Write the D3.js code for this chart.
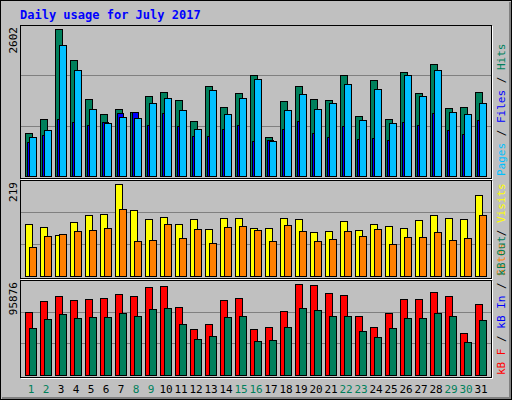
<!DOCTYPE html>
<html lang="en">
<head>
    <meta charset="UTF-8">
    <title>Daily usage for July 2017</title>
    <script src="https://d3js.org/d3.v7.min.js"></script>
    <style>
        body { margin: 0; background: #fff; }
        svg text { font-family: "DejaVu Sans Mono", monospace; }
    </style>
</head>
<body>
<script>
    const days = d3.range(1, 32);
    const weekends = [1, 2, 8, 9, 15, 16, 22, 23, 29, 30];

    const hits = [761, 1009, 2602, 2053, 1363, 1097, 1186, 1133, 1416, 1493, 1345, 973, 1593, 1221, 1469, 1788,
        690, 1328, 1593, 1363, 1345, 1788, 1062, 1699, 1009, 1841, 1469, 1982, 1204, 1221, 1493];
    const files = [690, 814, 2319, 1876, 1186, 938, 1044, 1027, 1292, 1381, 1168, 832, 1522, 1097, 1381, 1717,
        620, 1168, 1451, 1186, 1292, 1628, 991, 1540, 938, 1788, 1416, 1876, 1133, 1097, 1292];
    const pages = [602, 726, 1009, 956, 903, 956, 1115, 1133, 903, 1115, 885, 708, 708, 832, 903, 620,
        637, 832, 974, 761, 690, 885, 655, 673, 637, 956, 903, 1115, 814, 743, 991];
    const visits = [124, 117, 98, 129, 145, 148, 219, 157, 136, 141, 124, 136, 112, 138, 138, 114,
        114, 138, 136, 105, 107, 131, 110, 124, 119, 114, 133, 145, 138, 136, 193];
    const sites = [70, 95, 100, 107, 110, 114, 160, 83, 86, 124, 91, 112, 79, 117, 119, 110,
        83, 121, 107, 83, 88, 107, 95, 112, 76, 93, 93, 105, 86, 91, 145];
    const kbF = [66377, 77966, 83234, 79020, 80074, 81128, 85342, 83234, 92716, 93770, 71644, 48466, 53734, 79020, 81128, 48466,
        50573, 67431, 95876, 94822, 86396, 84289, 62163, 50573, 65323, 80074, 80074, 87450, 83234, 44252, 74805];
    const kbOut = [49520, 59002, 64270, 60056, 61110, 61110, 65323, 62163, 69538, 70591, 53734, 37930, 41091, 61110, 62163, 35823,
        36877, 50573, 70591, 68484, 62163, 62163, 46359, 40037, 49520, 60056, 60056, 65323, 62163, 34770, 57948];
    const kbIn = days.map(() => 0);

    const W = 512, H = 400;
    const svg = d3.select("body").append("svg").attr("width", W).attr("height", H);

    svg.append("rect").attr("x", 0.5).attr("y", 0.5).attr("width", W - 1).attr("height", H - 1)
        .attr("fill", "#c0c0c0").attr("stroke", "#000");
    svg.append("path").attr("d", `M2,${H - 2}H${W - 2}V2`).attr("fill", "none").attr("stroke", "#808080").attr("stroke-width", 2);

    svg.append("text").attr("x", 20).attr("y", 19).attr("fill", "#0000ff")
        .attr("font-size", 12).attr("font-weight", "bold").text("Daily usage for July 2017");

    const x = d3.scaleLinear().domain([1, 31]).range([25, 475]);

    // one panel: frame, grid, max label, bars, right legend
    function panel(top, bottom, maxY, max, series, legend) {
        svg.append("rect").attr("x", 20.5).attr("y", top + 0.5).attr("width", 471).attr("height", bottom - top)
            .attr("fill", "#c0c0c0").attr("stroke", "#000");
        svg.append("path").attr("d", `M21,${bottom + 1.5}H492.5V${top + 1}`).attr("fill", "none").attr("stroke", "#fff");
        const plotBottom = bottom - 2;
        const y = d3.scaleLinear().domain([0, max]).range([plotBottom, maxY]);
        const g3 = (plotBottom - top) / 3;
        [1, 2].forEach(k => svg.append("line").attr("x1", 21).attr("x2", 491)
            .attr("y1", Math.round(top + g3 * k) + 0.5).attr("y2", Math.round(top + g3 * k) + 0.5)
            .attr("stroke", "#808080"));
        svg.append("text").attr("transform", `translate(17,${top + 2}) rotate(-90)`)
            .attr("text-anchor", "end").attr("font-size", 11).attr("fill", "#000").text(max);
        series.forEach(s => {
            svg.append("g").selectAll("rect").data(s.values).join("rect")
                .attr("x", (v, i) => x(i + 1) + s.dx + 0.5)
                .attr("y", v => Math.round(y(v)) + 0.5)
                .attr("width", s.w)
                .attr("height", v => Math.max(0, plotBottom - Math.round(y(v))))
                .attr("fill", s.color).attr("stroke", "#000");
        });
        const t = svg.append("text").attr("transform", `translate(505,${bottom - 2}) rotate(-90)`)
            .attr("font-size", 11);
        legend.forEach(l => t.append("tspan").attr("fill", l.c).text(l.t));
    }

    panel(25, 178, 29, 2602, [
        { values: hits, dx: 0, w: 7, color: "#00805c" },
        { values: pages, dx: 2, w: 6, color: "#0000ff" },
        { values: files, dx: 4, w: 7, color: "#00c0ff" }
    ], [
        { t: "Pages", c: "#00c0ff" }, { t: " / ", c: "#000" }, { t: "Files", c: "#0000ff" },
        { t: " / ", c: "#000" }, { t: "Hits", c: "#00805c" }
    ]);

    panel(180, 278, 184, 219, [
        { values: visits, dx: 0, w: 7, color: "#ffff00" },
        { values: sites, dx: 4, w: 7, color: "#ff8000" }
    ], [
        { t: "Sites", c: "#ff8000" }, { t: " / ", c: "#000" }, { t: "Visits", c: "#ffff00" }
    ]);

    panel(280, 377, 284, 95876, [
        { values: kbF, dx: 0, w: 7, color: "#ff0000" },
        { values: kbIn, dx: 2, w: 6, color: "#0000ff" },
        { values: kbOut, dx: 4, w: 7, color: "#00805c" }
    ], [
        { t: "kB F", c: "#ff0000" }, { t: " / ", c: "#000" }, { t: "kB In", c: "#0000ff" },
        { t: " / ", c: "#000" }, { t: "kB Out", c: "#00805c" }
    ]);

    svg.append("g").selectAll("text").data(days).join("text")
        .attr("x", d => x(d) + 6).attr("y", 393).attr("text-anchor", "middle")
        .attr("font-size", 11)
        .attr("fill", d => weekends.includes(d) ? "#00805c" : "#000")
        .text(d => d);
</script>
</body>
</html>
